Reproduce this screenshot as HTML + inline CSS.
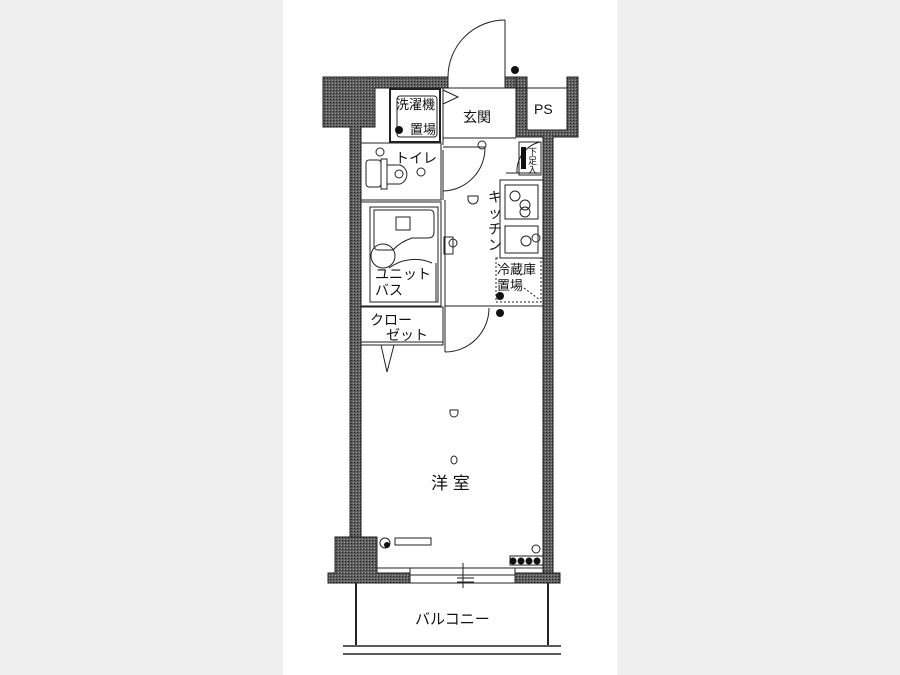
<!DOCTYPE html>
<html><head><meta charset="utf-8"><style>
html,body{margin:0;padding:0;background:#efefef;}
svg{display:block}
text{font-family:"Liberation Sans","Noto Sans CJK JP",sans-serif;fill:#111}
</style></head><body>
<svg width="900" height="675" viewBox="0 0 900 675" xmlns="http://www.w3.org/2000/svg">
<defs>
<pattern id="h" width="3" height="3" patternUnits="userSpaceOnUse">
<rect width="3" height="3" fill="#5e5e5e"/><rect width="1" height="1" fill="#222"/><rect x="2" y="2" width="1" height="1" fill="#999"/>
</pattern>
</defs>
<rect x="0" y="0" width="900" height="675" fill="#efefef"/>
<rect x="283" y="0" width="334" height="675" fill="#fff"/>
<g fill="url(#h)" stroke="#222" stroke-width="1">
<path d="M323 77 H448 V88 H375 V127 H361 V537 H350 V127 H323 Z"/>
<path d="M505 77 H527 V88 H516 V137 H543 V573 H553 V137 H578 V77 H567 V130 H527 V88 H516 V77 Z" />
<path d="M335 537 H377 V573 H410 V583 H328 V573 H335 Z"/>
<path d="M515 573 H560 V583 H515 Z"/>
</g>
<rect x="505" y="77" width="11" height="11" fill="url(#h)" stroke="#222"/>
<g fill="none" stroke="#222" stroke-width="1">
<line x1="505" y1="20" x2="505" y2="77"/>
<path d="M505 20 A57 57 0 0 0 448 77"/>
<line x1="448" y1="77" x2="448" y2="88"/>
<line x1="448" y1="88" x2="505" y2="88"/>
<rect x="527" y="88" width="40" height="42"/>
<rect x="390" y="89" width="50" height="53" stroke-width="2"/>
<rect x="397" y="96" width="40" height="41" rx="3"/>
<path d="M443 90 L458 97 L443 104"/>
<line x1="443" y1="88" x2="443" y2="145"/>
<line x1="443" y1="138" x2="516" y2="138"/>
<rect x="361" y="143" width="80" height="57"/>
<rect x="366" y="160" width="15" height="27" rx="3"/>
<rect x="381" y="159" width="6" height="30"/>
<path d="M387 165 H400 A10 10 0 0 1 400 184 H387"/>
<circle cx="399" cy="174" r="4"/><circle cx="421" cy="172" r="4"/>
<circle cx="380" cy="152" r="4"/>
<line x1="443" y1="150" x2="443" y2="200"/>
<path d="M443 191 A43 43 0 0 0 485 147"/>
<line x1="443" y1="147" x2="485" y2="147"/>
<circle cx="482" cy="145" r="4"/>
<rect x="519" y="142" width="22" height="33"/>
<path d="M517 173 A30 30 0 0 1 540 142"/>
<line x1="506" y1="173" x2="540" y2="173"/>
<rect x="361" y="202" width="80" height="104"/>
<rect x="370" y="207" width="68" height="95"/>
<path d="M374 210 H430 Q434 210 434 215 V232 Q434 238 428 238 H412 Q400 242 393 250 H378 Q374 250 374 245 Z"/>
<rect x="396" y="217" width="14" height="13"/>
<circle cx="383" cy="256" r="12"/>
<path d="M389 268 A43 43 0 0 1 432 263"/>
<line x1="436" y1="263" x2="436" y2="302"/>
<line x1="445" y1="200" x2="445" y2="306"/>
<rect x="500" y="180" width="43" height="78"/>
<rect x="505" y="185" width="33" height="34"/>
<rect x="505" y="226" width="33" height="27"/>
<circle cx="515" cy="196" r="5"/><circle cx="525" cy="205" r="5"/><circle cx="525" cy="212" r="5"/>
<circle cx="526" cy="241" r="5"/><circle cx="536" cy="238" r="4"/>
<rect x="496" y="258" width="45" height="44" stroke-dasharray="2 2"/>
<line x1="524" y1="288" x2="540" y2="300" stroke-dasharray="2 2"/>
<path d="M468 196 h10 v3 a5 5 0 0 1 -10 0 z"/>
<circle cx="453" cy="243" r="4"/>
<rect x="444" y="237" width="9" height="17"/>
<rect x="361" y="307" width="82" height="38"/>
<line x1="361" y1="342" x2="443" y2="342"/>
<path d="M381 345 L387 372 L394 345"/>
<line x1="445" y1="306" x2="445" y2="352"/>
<path d="M445 352 A44 44 0 0 0 489 308"/>
<line x1="445" y1="306" x2="543" y2="306"/>
<path d="M450 410 h8 v3 a4 4 0 0 1 -8 0 z"/>
<ellipse cx="454" cy="460" rx="3" ry="4"/>
<rect x="395" y="538" width="36" height="7"/>
<circle cx="385" cy="543" r="5"/>
<circle cx="536" cy="549" r="4"/>
<rect x="510" y="556" width="33" height="9"/>
<line x1="377" y1="568" x2="543" y2="568"/>
<rect x="410" y="568" width="105" height="15"/>
<line x1="410" y1="575" x2="515" y2="575"/>
<line x1="463" y1="563" x2="463" y2="588"/><line x1="457" y1="578" x2="474" y2="578"/><line x1="457" y1="582" x2="474" y2="582"/>
<line x1="356" y1="583" x2="356" y2="645" stroke-width="2"/>
<line x1="548" y1="583" x2="548" y2="645" stroke-width="2"/>
<line x1="343" y1="646" x2="561" y2="646" stroke-width="1.5"/>
<line x1="343" y1="654" x2="561" y2="654" stroke-width="1.5"/>
</g>
<g fill="#111">
<circle cx="515" cy="70" r="4"/><circle cx="399" cy="130" r="4"/><circle cx="500" cy="296" r="4"/><circle cx="500" cy="313" r="4"/><circle cx="387" cy="545" r="3"/>
<rect x="521" y="147" width="5" height="22"/>
<circle cx="513" cy="561" r="3.5"/><circle cx="521" cy="561" r="3.5"/><circle cx="529" cy="561" r="3.5"/><circle cx="537" cy="561" r="3.5"/>
</g>
<g font-size="14">
<text x="396" y="109" font-size="13">洗濯機</text>
<text x="410" y="134" font-size="13">置場</text>
<text x="463" y="122">玄関</text>
<text x="534" y="114" font-size="14">PS</text>
<text x="395" y="163">トイレ</text>
<text x="375" y="279">ユニット</text>
<text x="375" y="295">バス</text>
<text x="370" y="325">クロー</text>
<text x="386" y="340">ゼット</text>
<text x="497" y="274" font-size="13">冷蔵庫</text>
<text x="497" y="290" font-size="13">置場</text>
<text x="431" y="489" font-size="17">洋 室</text>
<text x="415" y="624" font-size="15">バルコニー</text>
<text x="528" y="155" font-size="9">下</text><text x="528" y="164" font-size="9">足</text><text x="528" y="173" font-size="9">入</text>
</g>
<g font-size="14">
<text x="488" y="202">キ</text><text x="488" y="218">ッ</text><text x="488" y="234">チ</text><text x="488" y="250">ン</text>
</g>
</svg>
</body></html>
